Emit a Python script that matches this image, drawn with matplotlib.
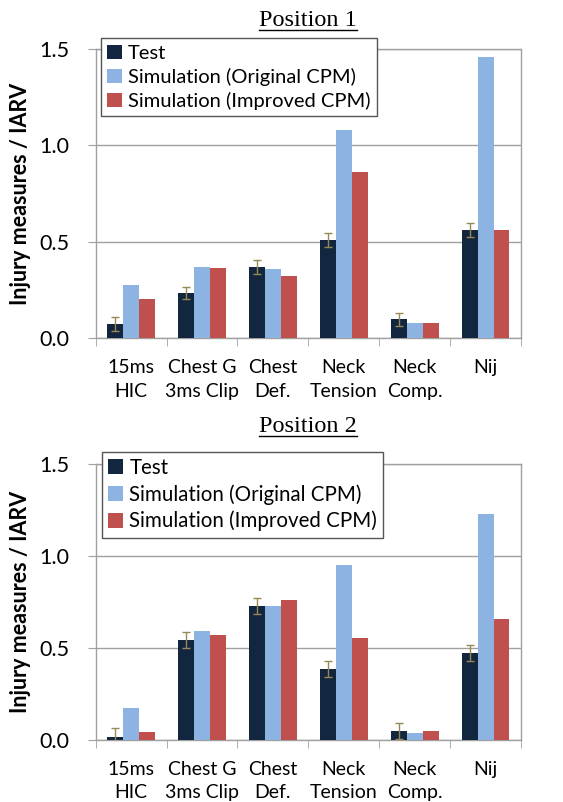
import numpy as np
import matplotlib
matplotlib.use("Agg")
import matplotlib.pyplot as plt
from matplotlib.lines import Line2D

categories = ["15ms\nHIC", "Chest G\n3ms Clip", "Chest\nDef.", "Neck\nTension", "Neck\nComp.", "Nij"]
series_names = ["Test", "Simulation (Original CPM)", "Simulation (Improved CPM)"]

# Position 1
p1_test = [0.075, 0.235, 0.370, 0.511, 0.099, 0.562]
p1_test_err = [0.035, 0.032, 0.035, 0.035, 0.034, 0.035]
p1_orig = [0.277, 0.370, 0.358, 1.080, 0.078, 1.460]
p1_impr = [0.204, 0.363, 0.323, 0.864, 0.078, 0.562]

# Position 2
p2_test = [0.018, 0.543, 0.730, 0.388, 0.047, 0.474]
p2_test_err = [0.045, 0.043, 0.043, 0.044, 0.044, 0.044]
p2_orig = [0.172, 0.595, 0.730, 0.953, 0.038, 1.227]
p2_impr = [0.042, 0.572, 0.760, 0.553, 0.047, 0.657]

colors = ["#13263f", "#8db3e2", "#c0504d"]
err_color = "#948a54"
grid_color = "#a0a0a0"

plt.rcParams["font.family"] = ["Lato", "DejaVu Sans"]

fig = plt.figure(figsize=(5.63, 8.02), dpi=100)


def draw_panel(rect, title, title_y, test, test_err, orig, impr, legend_anchor, leg_size):
    ax = fig.add_axes(rect)
    x = np.arange(len(categories))
    w = 0.225
    ax.bar(x - w, test, w, color=colors[0], label=series_names[0], zorder=3)
    ax.bar(x, orig, w, color=colors[1], label=series_names[1], zorder=3)
    ax.bar(x + w, impr, w, color=colors[2], label=series_names[2], zorder=3)
    ax.errorbar(x - w, test, yerr=test_err, fmt="none", ecolor=err_color,
                elinewidth=1.0, capsize=3, capthick=1.0, zorder=4)

    ax.set_xlim(-0.5, len(categories) - 0.5)
    ax.set_ylim(0, 1.5)
    ax.set_yticks([0.0, 0.5, 1.0, 1.5])
    ax.set_yticklabels(["0.0", "0.5", "1.0", "1.5"], fontsize=15.5)
    ax.yaxis.grid(True, color=grid_color, linewidth=1.0, zorder=0)
    ax.set_axisbelow(True)

    ax.set_xticks(x)
    ax.set_xticklabels(categories, fontsize=14, linespacing=1.45)
    ax.set_xticks(np.arange(len(categories) + 1) - 0.5, minor=True)
    ax.tick_params(axis="x", which="major", length=0, pad=15)
    ax.tick_params(axis="x", which="minor", length=6, color=grid_color, direction="out")
    ax.tick_params(axis="y", length=6, color=grid_color, pad=13)

    for s in ax.spines.values():
        s.set_color(grid_color)
        s.set_linewidth(1.0)

    ax.set_ylabel("Injury measures / IARV", fontsize=15.5, fontweight="bold", labelpad=6)

    leg = ax.legend(loc="upper left", bbox_to_anchor=legend_anchor,
                    bbox_transform=fig.transFigure, fontsize=leg_size, frameon=True,
                    fancybox=False, edgecolor="#555555", framealpha=1,
                    handlelength=0.75, handleheight=0.75, handletextpad=0.3,
                    labelspacing=0.3, borderpad=0.3, borderaxespad=0)
    leg.get_frame().set_linewidth(1.0)
    leg.set_zorder(10)

    t = fig.text(0.547, title_y, title, ha="center", va="center",
                 family="Liberation Serif", fontsize=17.5)
    return t


t1 = draw_panel([0.170, 0.578, 0.7554, 0.3609], "Position 1", 0.975,
                p1_test, p1_test_err, p1_orig, p1_impr, (0.179, 0.952), 14.5)
t2 = draw_panel([0.170, 0.0773, 0.7554, 0.3438], "Position 2", 0.468,
                p2_test, p2_test_err, p2_orig, p2_impr, (0.1806, 0.4368), 14.8)

# underline the panel titles
fig.canvas.draw()
renderer = fig.canvas.get_renderer()
for t in (t1, t2):
    bb = t.get_window_extent(renderer).transformed(fig.transFigure.inverted())
    y = bb.y0 + 0.001
    fig.add_artist(Line2D([bb.x0, bb.x1], [y, y], transform=fig.transFigure,
                          color="black", linewidth=1.0))

fig.savefig("out.png", dpi=100)
